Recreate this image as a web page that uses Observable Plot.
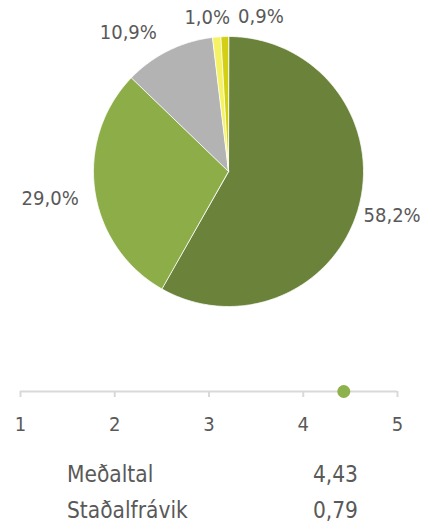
<!DOCTYPE html>
<html>
<head>
<meta charset="utf-8">
<script src="https://cdn.jsdelivr.net/npm/d3@7"></script>
<script src="https://cdn.jsdelivr.net/npm/@observablehq/plot@0.6"></script>
<style>
  html, body { margin: 0; padding: 0; background: #fff; }
  #wrap { position: relative; width: 422px; height: 525px; overflow: hidden;
          font-family: "DejaVu Sans Condensed", "DejaVu Sans", sans-serif; color: #595959; }
  #pie { position: absolute; left: 0; top: 0; }
  #scale { position: absolute; left: 0; top: 345px; }
  .stat { position: absolute; font-size: 22.5px; line-height: 22.5px; white-space: nowrap; }
</style>
</head>
<body>
<div id="wrap">
  <div id="pie"></div>
  <div id="scale"></div>
  <div id="stats"></div>
</div>
<script>
// ---- data ----
const categories = ["5", "4", "3", "2", "1"];
const shares = [58.2, 29.0, 10.9, 1.0, 0.9];
const sliceColors = ["#6a823a", "#8cad48", "#b3b3b3", "#f6f266", "#d3cf14"];
const scaleTicks = [1, 2, 3, 4, 5];
const meanValue = 4.43;
const statLabels = ["Meðaltal", "Staðalfrávik"];
const statValues = ["4,43", "0,79"];

// ---- layout (pixels) ----
const FONT = '"DejaVu Sans Condensed", "DejaVu Sans", sans-serif';
const TEXT = "#595959";
const W = 422, PIE_H = 345, R = 135, CX = 228, CY = 171;
const labelR = 1.2;
const labelNudge = [[7, 3], [-18, 4], [-28, 6], [-7, 7], [37, 7]];

// ---- pie geometry in unit-circle data space ----
const total = d3.sum(shares);
let acc = 0;
const slices = shares.map((v, i) => {
  const a0 = acc / total * 2 * Math.PI;
  acc += v;
  const a1 = acc / total * 2 * Math.PI;
  return {cat: categories[i], v, a0, a1, i};
});
const pts = [];
for (const s of slices) {
  pts.push({cat: s.cat, x: 0, y: 0});
  const n = Math.max(2, Math.ceil((s.a1 - s.a0) / (Math.PI / 360)));
  for (let k = 0; k <= n; k++) {
    const a = s.a0 + (s.a1 - s.a0) * k / n;
    pts.push({cat: s.cat, x: Math.sin(a), y: Math.cos(a)});
  }
}
const labels = slices.map(s => {
  const m = (s.a0 + s.a1) / 2;
  return {
    x: labelR * Math.sin(m) + labelNudge[s.i][0] / R,
    y: labelR * Math.cos(m) - labelNudge[s.i][1] / R,
    text: s.v.toFixed(1).replace(".", ",") + "%"
  };
});

const pie = Plot.plot({
  width: W, height: PIE_H,
  marginLeft: 0, marginRight: 0, marginTop: 0, marginBottom: 0,
  style: {fontFamily: FONT, background: "transparent", overflow: "visible"},
  x: {domain: [-CX / R, (W - CX) / R], axis: null},
  y: {domain: [-(PIE_H - CY) / R, CY / R], axis: null},
  color: {domain: categories, range: sliceColors},
  marks: [
    Plot.line(pts, {x: "x", y: "y", z: "cat", fill: "cat", stroke: "white", strokeWidth: 0.8, curve: "linear-closed"}),
    Plot.text(labels, {x: "x", y: "y", text: "text", fill: TEXT, fontSize: 20, textAnchor: "middle", lineAnchor: "middle"})
  ]
});
document.getElementById("pie").appendChild(pie);

const scale = Plot.plot({
  width: W, height: 95,
  marginLeft: 20, marginRight: 25, marginTop: 46, marginBottom: 49,
  style: {fontFamily: FONT, background: "transparent", overflow: "visible"},
  x: {domain: [scaleTicks[0], scaleTicks[scaleTicks.length - 1]]},
  y: {domain: [0, 1], axis: null},
  marks: [
    Plot.ruleY([0], {x1: scaleTicks[0], x2: scaleTicks[scaleTicks.length - 1], stroke: "#d9d9d9", strokeWidth: 2}),
    Plot.axisX({ticks: scaleTicks, tickFormat: d => String(d), tickSize: 6, tickPadding: 19,
                stroke: "#d9d9d9", strokeWidth: 2, color: TEXT, fontSize: 20, fontFamily: FONT}),
    Plot.dot([meanValue], {x: d => d, y: 0, r: 6.5, fill: "#8db14b"})
  ]
});
document.getElementById("scale").appendChild(scale);

const stats = document.getElementById("stats");
const rowTops = [463, 499];
statLabels.forEach((lab, i) => {
  const l = document.createElement("div");
  l.className = "stat"; l.textContent = lab;
  l.style.left = "67px"; l.style.top = rowTops[i] + "px";
  stats.appendChild(l);
  const v = document.createElement("div");
  v.className = "stat"; v.textContent = statValues[i];
  v.style.right = (W - 358) + "px"; v.style.top = rowTops[i] + "px";
  stats.appendChild(v);
});
</script>
</body>
</html>
